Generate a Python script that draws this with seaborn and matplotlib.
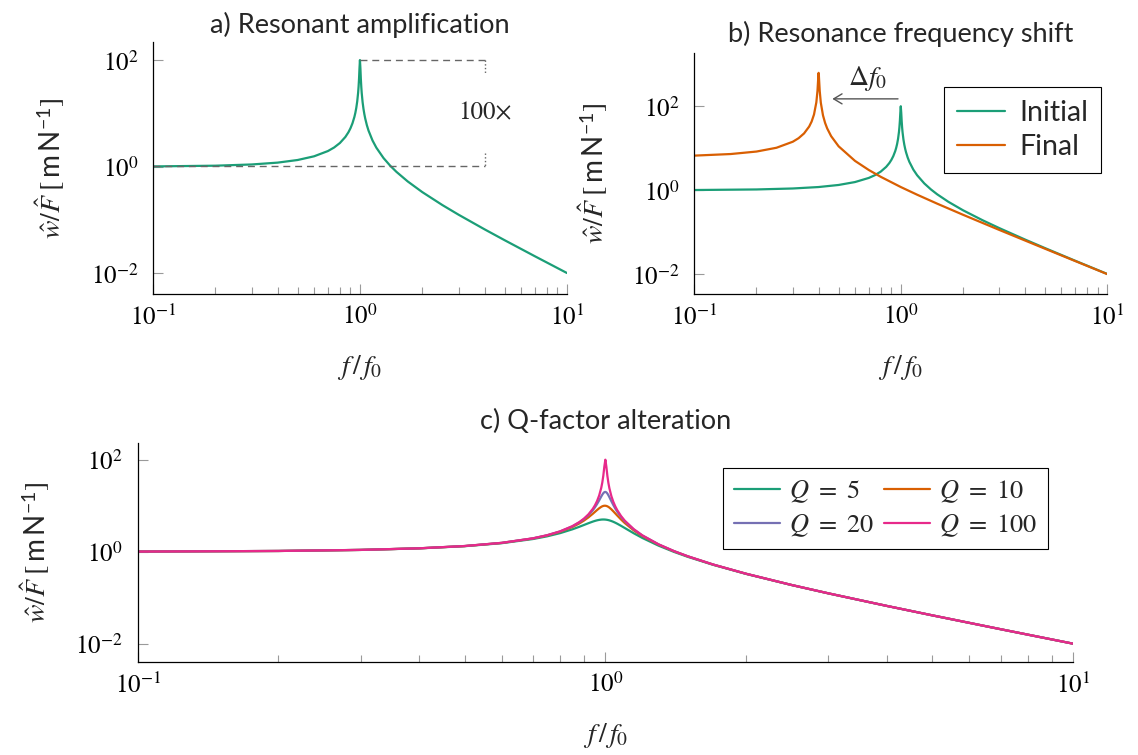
import matplotlib
matplotlib.use("Agg")
import matplotlib.pyplot as plt
import numpy as np
import pandas as pd
import seaborn as sns
from matplotlib.lines import Line2D
from matplotlib.ticker import LogLocator, NullFormatter, NullLocator

# ---------------------------------------------------------------------------
# Tabulated frequency responses (amplitude per unit force, m/N)
# ---------------------------------------------------------------------------
F_RATIO = [0.1, 0.2, 0.3, 0.4, 0.5, 0.6, 0.7, 0.75, 0.8, 0.85, 0.88, 0.9,
           0.92, 0.94, 0.95, 0.96, 0.97, 0.98, 0.985, 0.99, 0.995, 1.0,
           1.005, 1.01, 1.015, 1.02, 1.03, 1.04, 1.05, 1.06, 1.08, 1.1,
           1.15, 1.2, 1.3, 1.4, 1.5, 1.7, 2.0, 2.5, 3.0, 4.0, 5.0, 7.0, 10.0]

W_Q100 = [1.010, 1.042, 1.099, 1.190, 1.333, 1.563, 1.961, 2.286, 2.777,
          3.602, 4.429, 5.257, 6.499, 8.563, 10.21, 12.66, 16.70, 24.51,
          31.89, 44.99, 70.98, 100.0, 70.45, 44.46, 31.36, 24.00, 16.19,
          12.16, 9.706, 8.061, 5.997, 4.755, 3.099, 2.272, 1.449, 1.042,
          0.8000, 0.5291, 0.3333, 0.1905, 0.1250, 0.06667, 0.04167,
          0.02083, 0.01010]

W_Q20 = [1.010, 1.042, 1.099, 1.190, 1.333, 1.561, 1.956, 2.277, 2.761,
         3.562, 4.351, 5.122, 6.237, 7.966, 9.220, 10.88, 13.08, 15.87,
         17.38, 18.74, 19.71, 20.00, 19.52, 18.40, 16.93, 15.37, 12.54,
         10.34, 8.683, 7.436, 5.716, 4.607, 3.053, 2.252, 1.443, 1.039,
         0.7986, 0.5286, 0.3332, 0.1904, 0.1250, 0.06666, 0.04166,
         0.02083, 0.01010]

W_Q10 = [1.010, 1.041, 1.098, 1.189, 1.330, 1.556, 1.943, 2.253, 2.712,
         3.446, 4.130, 4.757, 5.585, 6.684, 7.346, 8.068, 8.804, 9.461,
         9.718, 9.903, 10.00, 10.00, 9.901, 9.711, 9.442, 9.115, 8.357,
         7.565, 6.815, 6.141, 5.041, 4.218, 2.921, 2.193, 1.424, 1.031,
         0.7943, 0.5270, 0.3326, 0.1903, 0.1249, 0.06664, 0.04166,
         0.02083, 0.01010]

W_Q5 = [1.010, 1.041, 1.097, 1.185, 1.322, 1.536, 1.891, 2.162, 2.538,
        3.073, 3.495, 3.821, 4.172, 4.523, 4.683, 4.822, 4.931, 5.001,
        5.019, 5.025, 5.019, 5.000, 4.969, 4.926, 4.872, 4.809, 4.655,
        4.476, 4.279, 4.075, 3.668, 3.288, 2.525, 1.995, 1.356, 1.000,
        0.7779, 0.5207, 0.3304, 0.1896, 0.1247, 0.06657, 0.04163,
        0.02082, 0.01010]

# Softened structure: resonance moved down in frequency
F_FINAL = [0.1, 0.15, 0.2, 0.25, 0.3, 0.32, 0.34, 0.36, 0.37, 0.38, 0.39,
           0.395, 0.398, 0.399, 0.4, 0.401, 0.402, 0.405, 0.41, 0.42, 0.43,
           0.44, 0.46, 0.5, 0.6, 0.7, 0.8, 1.0, 1.2, 1.5, 2.0, 3.0, 5.0,
           7.0, 10.0]
W_FINAL = [6.667, 7.273, 8.333, 10.26, 14.29, 17.36, 22.51, 32.86, 43.20,
           63.80, 124.2, 233.8, 443.6, 560.3, 625.0, 557.8, 440.3, 230.5,
           121.0, 60.66, 40.07, 29.72, 19.37, 11.11, 5.000, 3.030, 2.083,
           1.190, 0.7813, 0.4785, 0.2604, 0.1131, 0.04026, 0.02048, 0.01002]

Q_LABELS = ["Q = 5", "Q = 10", "Q = 20", "Q = 100"]
STATE_LABELS = ["Initial", "Final"]

X_TICKS = [0.1, 1.0, 10.0]
X_TICK_LABELS = [r"$10^{-1}$", r"$10^{0}$", r"$10^{1}$"]
Y_TICKS = [1e-2, 1.0, 1e2]
Y_TICK_LABELS = [r"$10^{-2}$", r"$10^{0}$", r"$10^{2}$"]

# ---------------------------------------------------------------------------
# Styling
# ---------------------------------------------------------------------------
sns.set_theme(style="white")
SANS = ["Lato", "DejaVu Sans"]
plt.rcParams["font.family"] = SANS
plt.rcParams["mathtext.fontset"] = "custom"
plt.rcParams["mathtext.rm"] = "STIXGeneral"
plt.rcParams["mathtext.it"] = "STIXGeneral:italic"
plt.rcParams["mathtext.bf"] = "STIXGeneral:bold"
plt.rcParams["mathtext.sf"] = "Lato"
plt.rcParams["mathtext.fallback"] = "stix"

palette = sns.color_palette("Dark2", 4)
C_GREEN, C_ORANGE, C_PURPLE, C_PINK = palette
LW = 1.6
TICK_FS = 18
LABEL_FS = 20
TITLE_FS = 19.5

YLABEL = r"$\hat{w}/\hat{F}\;\left[\,\mathsf{m\,N}^{\mathsf{-1}}\right]$"
XLABEL = r"$f\,/\,f_0$"

fig = plt.figure(figsize=(11.38, 7.55), dpi=100)
ax_a = fig.add_axes([0.1344, 0.6102, 0.3638, 0.3346])
ax_b = fig.add_axes([0.6101, 0.6102, 0.3629, 0.3200])
ax_c = fig.add_axes([0.1210, 0.1228, 0.8219, 0.2909])


def style_axis(ax, ylim, xlabel_y, ylabel_x):
    ax.set_xscale("log")
    ax.set_yscale("log")
    ax.set_xlim(0.1, 10)
    ax.set_ylim(*ylim)
    ax.set_xticks(X_TICKS, labels=X_TICK_LABELS)
    ax.set_yticks(Y_TICKS, labels=Y_TICK_LABELS)
    ax.xaxis.set_minor_locator(LogLocator(base=10, subs=np.arange(2, 10)))
    ax.xaxis.set_minor_formatter(NullFormatter())
    ax.yaxis.set_minor_locator(NullLocator())
    ax.tick_params(which="both", direction="in", color="#9a9a9a",
                   width=0.8, labelcolor="black", labelsize=TICK_FS,
                   bottom=True, left=True, top=False, right=False)
    ax.tick_params(which="major", length=7.5)
    ax.tick_params(which="minor", length=5)
    ax.tick_params(axis="x", pad=6.5)
    ax.tick_params(axis="y", pad=10.5)
    sns.despine(ax=ax)
    for side in ("left", "bottom"):
        ax.spines[side].set_color("black")
        ax.spines[side].set_linewidth(0.9)
    ax.set_xlabel(XLABEL, fontsize=LABEL_FS, va="top")
    ax.xaxis.set_label_coords(0.5, xlabel_y)
    ax.set_ylabel(YLABEL, fontsize=LABEL_FS)
    ax.yaxis.set_label_coords(ylabel_x, 0.5)
    ax.grid(False)


# ---------------------------------------------------------------------------
# a) Resonant amplification
# ---------------------------------------------------------------------------
sns.lineplot(x=F_RATIO, y=W_Q100, ax=ax_a, color=C_GREEN, lw=LW,
             estimator=None)
style_axis(ax_a, (10 ** -2.395, 10 ** 2.345), -0.232, -0.208)
ax_a.set_title("a) Resonant amplification", fontsize=TITLE_FS, pad=6.3)

w_peak = max(W_Q100)
f_peak = F_RATIO[W_Q100.index(w_peak)]
w_static = W_Q100[0]
f_mark = 4.0
dash = (0, (5, 3.5))
ax_a.plot([f_peak, f_mark], [w_peak, w_peak], ls=dash, color="#666666", lw=1.0)
ax_a.plot([F_RATIO[0], f_mark], [w_static, w_static], ls=dash,
          color="#666666", lw=1.0)
ax_a.plot([f_mark, f_mark], [w_peak, w_peak / 10 ** 0.25], ls=":",
          color="#666666", lw=1.0)
ax_a.plot([f_mark, f_mark], [w_static * 10 ** 0.25, w_static], ls=":",
          color="#666666", lw=1.0)
ax_a.text(f_mark, np.sqrt(w_peak * w_static), "100×", ha="center",
          va="center", fontsize=TICK_FS, family="STIXGeneral")

# ---------------------------------------------------------------------------
# b) Resonance frequency shift
# ---------------------------------------------------------------------------
df_b = pd.DataFrame({
    "f": F_RATIO + F_FINAL,
    "w": W_Q100 + W_FINAL,
    "state": [STATE_LABELS[0]] * len(F_RATIO) + [STATE_LABELS[1]] * len(F_FINAL),
})
sns.lineplot(data=df_b, x="f", y="w", hue="state", ax=ax_b,
             palette={STATE_LABELS[0]: C_GREEN, STATE_LABELS[1]: C_ORANGE},
             lw=LW, estimator=None, legend=False)
style_axis(ax_b, (10 ** -2.48, 10 ** 3.276), -0.243, -0.204)
ax_b.set_title("b) Resonance frequency shift", fontsize=TITLE_FS, pad=7.7)

f_final_peak = F_FINAL[W_FINAL.index(max(W_FINAL))]
ax_b.annotate("", xy=(f_final_peak * 1.13, 150), xytext=(f_peak, 150),
              arrowprops=dict(arrowstyle="->,head_length=0.5,head_width=0.3",
                              color="#555555", lw=1.0))
ax_b.text(0.69, 447, r"$\Delta f_0$", ha="center", va="center",
          fontsize=LABEL_FS)

leg_b = ax_b.legend(
    handles=[Line2D([], [], color=C_GREEN, lw=LW),
             Line2D([], [], color=C_ORANGE, lw=LW)],
    labels=STATE_LABELS, loc="upper right",
    bbox_to_anchor=(1101 / 1138, 1 - 87 / 755), bbox_transform=fig.transFigure,
    borderaxespad=0, fancybox=False, framealpha=1, edgecolor="black",
    fontsize=20.5, handlelength=1.7, handletextpad=0.5, borderpad=0.45,
    labelspacing=0.3)
leg_b.get_frame().set_linewidth(0.8)

# ---------------------------------------------------------------------------
# c) Q-factor alteration
# ---------------------------------------------------------------------------
df_c = pd.DataFrame({
    "f": F_RATIO * 4,
    "w": W_Q5 + W_Q10 + W_Q20 + W_Q100,
    "Q": sum([[lab] * len(F_RATIO) for lab in Q_LABELS], []),
})
q_palette = dict(zip(Q_LABELS, palette))
sns.lineplot(data=df_c, x="f", y="w", hue="Q", ax=ax_c, palette=q_palette,
             lw=LW, estimator=None, legend=False)
style_axis(ax_c, (10 ** -2.40, 10 ** 2.37), -0.267, -0.092)
ax_c.set_title("c) Q-factor alteration", fontsize=TITLE_FS, pad=9.9)

q_math = [r"$Q\ =\ " + lab.split("=")[1].strip() + "$" for lab in Q_LABELS]
order = [0, 2, 1, 3]
leg_c = ax_c.legend(
    handles=[Line2D([], [], color=palette[i], lw=LW) for i in order],
    labels=[q_math[i] for i in order], ncol=2, loc="upper right",
    bbox_to_anchor=(1048 / 1138, 1 - 468 / 755), bbox_transform=fig.transFigure,
    borderaxespad=0, fancybox=False, framealpha=1, edgecolor="black",
    fontsize=19, handlelength=1.75, handletextpad=0.35, borderpad=0.4,
    labelspacing=0.25, columnspacing=0.35)
leg_c.get_frame().set_linewidth(0.8)

fig.savefig("out.png", dpi=100, facecolor="white")
